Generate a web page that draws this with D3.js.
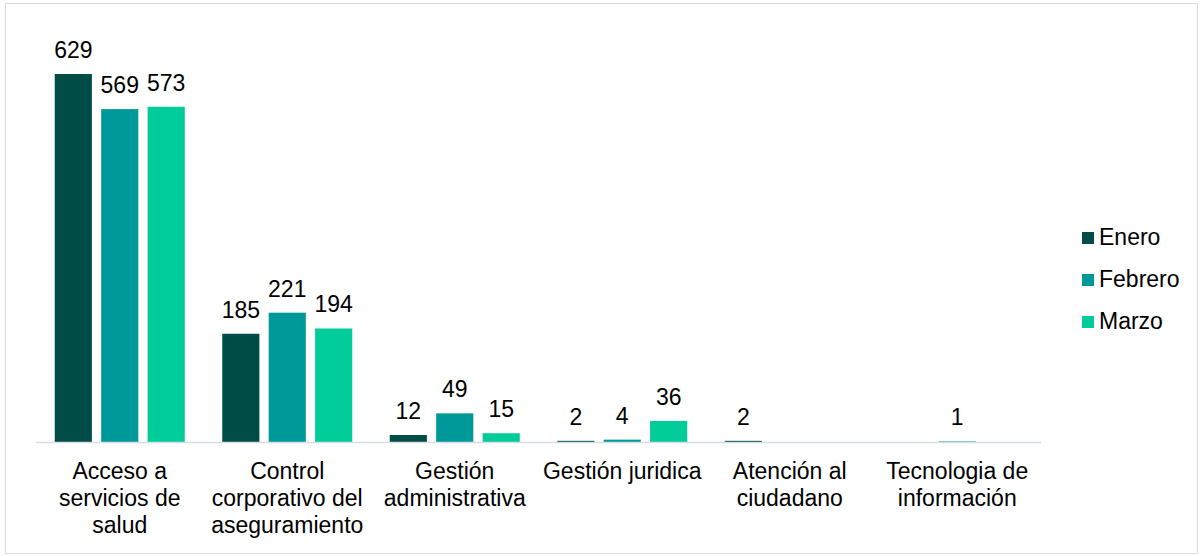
<!DOCTYPE html>
<meta charset="utf-8">
<style>
  body { margin: 0; background: #fff; }
  text { font-family: 'Liberation Sans', Arial, sans-serif; fill: #000; font-size: 23px; }
</style>
<body>
<div id="chart"></div>
<script src="https://d3js.org/d3.v7.min.js"></script>
<script>
// data
var categories = [
  ["Acceso a", "servicios de", "salud"],
  ["Control", "corporativo del", "aseguramiento"],
  ["Gestión", "administrativa"],
  ["Gestión juridica"],
  ["Atención al", "ciudadano"],
  ["Tecnologia de", "información"]
];
var seriesNames = ["Enero", "Febrero", "Marzo"];
var enero   = [629, 185, 12, 2, 2, null];
var febrero = [569, 221, 49, 4, null, 1];
var marzo   = [573, 194, 15, 36, null, null];
var colors  = ["#004d47", "#00999a", "#00cc99"];

var series = [enero, febrero, marzo];

var W = 1203, H = 556;
var svg = d3.select("#chart").append("svg")
    .attr("width", W).attr("height", H);

// outer border
svg.append("rect")
    .attr("x", 5.5).attr("y", 3.5)
    .attr("width", 1192).attr("height", 550)
    .attr("fill", "none").attr("stroke", "#d9dde3");

var x0 = d3.scaleBand()
    .domain(d3.range(categories.length))
    .range([36, 1041]);

var x1 = d3.scaleBand()
    .domain(d3.range(seriesNames.length))
    .range([18.75, x0.bandwidth() - 18.75])
    .paddingInner(0.2);

var y = d3.scaleLinear()
    .domain([0, 629])
    .range([442, 74]);

// bars
series.forEach(function(vals, si) {
  var g = svg.append("g");
  vals.forEach(function(v, ci) {
    if (v == null) return;
    var bx = x0(ci) + x1(si);
    g.append("rect")
      .attr("x", bx)
      .attr("y", y(v))
      .attr("width", x1.bandwidth())
      .attr("height", y(0) - y(v))
      .attr("fill", colors[si]);
    g.append("text")
      .attr("x", bx + x1.bandwidth() / 2)
      .attr("y", y(v) - 16)
      .attr("text-anchor", "middle")
      .text(v);
  });
});

// axis line
svg.append("line")
    .attr("x1", 36).attr("x2", 1041)
    .attr("y1", 442.5).attr("y2", 442.5)
    .attr("stroke", "#d9dde3").attr("stroke-width", 1.5);

// category labels
categories.forEach(function(lines, ci) {
  var t = svg.append("text")
    .attr("x", x0(ci) + x0.bandwidth() / 2)
    .attr("y", 479)
    .attr("text-anchor", "middle");
  lines.forEach(function(l, i) {
    t.append("tspan")
      .attr("x", x0(ci) + x0.bandwidth() / 2)
      .attr("dy", i === 0 ? 0 : 27)
      .text(l);
  });
});

// legend
var legend = svg.append("g");
seriesNames.forEach(function(name, i) {
  var ly = 232 + i * 42;
  legend.append("rect")
    .attr("x", 1082).attr("y", ly)
    .attr("width", 12).attr("height", 12)
    .attr("fill", colors[i]);
  legend.append("text")
    .attr("x", 1099).attr("y", ly + 13)
    .text(name);
});
</script>
</body>
